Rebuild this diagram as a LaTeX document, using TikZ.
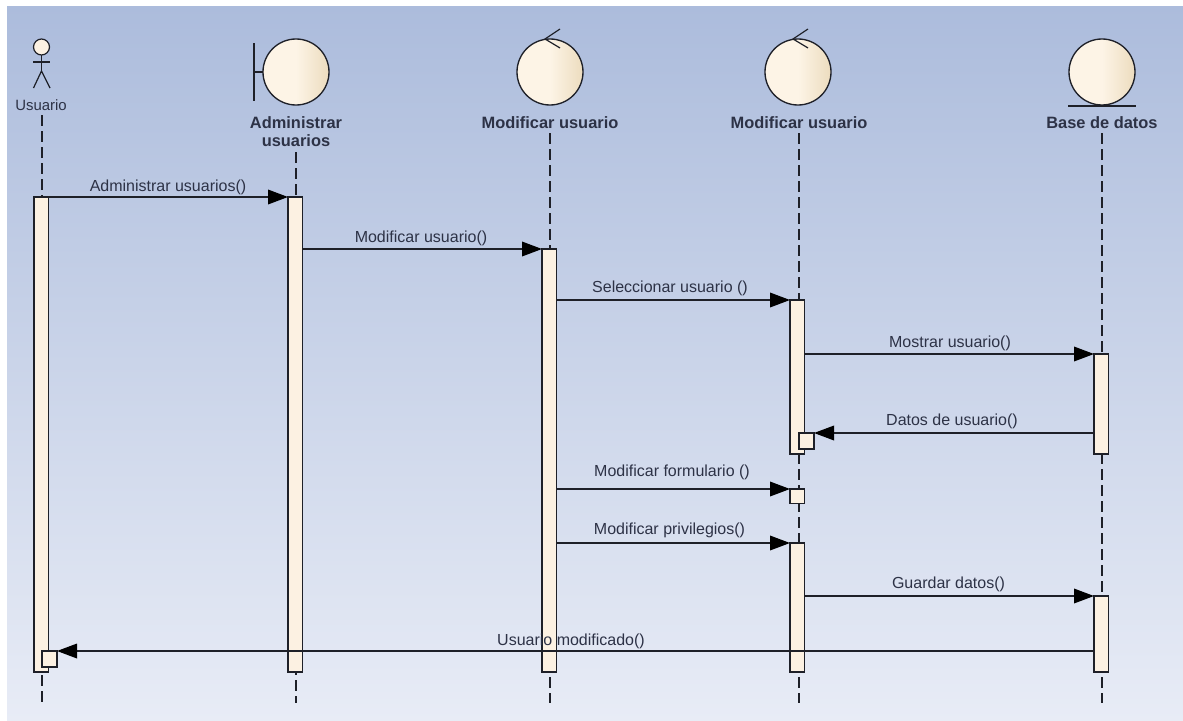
\documentclass[tikz,border=0pt]{standalone}
\usepackage{fontspec}
\setmainfont{Liberation Sans}
\usetikzlibrary{arrows.meta}
\definecolor{txt}{RGB}{45,50,70}
\definecolor{ink}{RGB}{30,32,40}
\definecolor{barfill}{RGB}{252,241,226}
\definecolor{bgtop}{RGB}{172,188,220}
\definecolor{bgbot}{RGB}{232,236,246}
\definecolor{cl}{RGB}{253,244,230}
\definecolor{cr}{RGB}{236,220,190}
\tikzset{
 x=0.75pt,y=-0.75pt,
 lifeline/.style={draw=ink,line width=0.9pt,dash pattern=on 8.25pt off 3.75pt},
 bar/.style={draw=ink,line width=0.95pt,fill=barfill,rectangle,inner sep=0,outer sep=0,anchor=north west,minimum width=10.9pt},
 small/.style={bar,minimum width=11.25pt,minimum height=12pt},
 msg/.style={draw=ink,line width=0.95pt,-{Triangle[length=15pt,width=11pt,color=black]}},
 lbl/.style={text=txt,font=\fontsize{12}{13}\selectfont,inner sep=0,anchor=center},
 head/.style={text=txt,font=\bfseries\fontsize{12.3}{13.5}\selectfont,inner sep=0,anchor=center,align=center},
 robust/.style={draw=ink,line width=1pt,left color=cl,right color=cr,middle color=cl,circle,minimum size=49.5pt,inner sep=0,outer sep=0},
 stroke/.style={draw=ink,line width=0.9pt},
}
\begin{document}
\begin{tikzpicture}
\useasboundingbox (0,0) rectangle (1183,721);
\fill[white] (0,0) rectangle (1183,721);
\shade[top color=bgtop,bottom color=bgbot] (7,6) rectangle (1183,721);
% head labels
\node[lbl,font=\fontsize{11.2}{13}\selectfont] (uU) at (41,105) {Usuario};
\node[head] (hA) at (296,132) {Administrar\\usuarios};
\node[head] (hB) at (550,123) {Modificar usuario};
\node[head] (hC) at (799,123) {Modificar usuario};
\node[head] (hD) at (1102,123) {Base de datos};
% lifeline ends
\coordinate (s0) at (42,115); \coordinate (e0) at (42,703);
\coordinate (s1) at (296,152); \coordinate (e1) at (296,703);
\coordinate (s2) at (550,133); \coordinate (e2) at (550,703);
\coordinate (s3) at (799,133); \coordinate (e3) at (799,703);
\coordinate (s4) at (1102,133); \coordinate (e4) at (1102,703);
\foreach \i in {0,...,4}{\draw[lifeline] (s\i) -- (e\i);}
% actor
\node[circle,draw=ink,line width=0.9pt,fill=barfill,minimum size=12pt,inner sep=0,outer sep=0] (actor) at (41.5,47) {};
\coordinate (hip) at (41.5,71); \coordinate (armL) at (33,62); \coordinate (armR) at (50,62);
\coordinate (legL) at (33.5,88); \coordinate (legR) at (50,88);
\draw[stroke] (actor.south) -- (hip);
\draw[stroke] (armL) -- (armR);
\draw[stroke] (legL) -- (hip) -- (legR);
% boundary
\node[robust] (c1) at (296,72) {};
\coordinate (b1t) at (254,43); \coordinate (b1b) at (254,101); \coordinate (b1m) at (254,72);
\draw[stroke] (b1t) -- (b1b);
\draw[stroke] (b1m) -- (c1.west);
% controls
\node[robust] (c2) at (550,72) {};
\node[robust] (c3) at (798,72) {};
\foreach \n in {c2,c3}{
 \draw[stroke] ([shift={(10,-10)}]\n.north) -- ([shift={(-5,0)}]\n.north) -- ([shift={(10,9)}]\n.north);
}
% entity
\node[robust] (c4) at (1102,72) {};
\coordinate (l4a) at (1068,106); \coordinate (l4b) at (1136,106);
\draw[stroke] (l4a) -- (l4b);
% activation bars
\node[bar,minimum height=356.25pt] (a0) at (34,197) {};
\node[bar,minimum height=356.25pt] (a1) at (288,197) {};
\node[bar,minimum height=317.25pt] (a2) at (542,249) {};
\node[bar,minimum height=115.5pt] (a3) at (790,300) {};
\node[small] (a3s) at (799,433) {};
\node[small,minimum width=10.9pt,minimum height=10.9pt] (a3f) at (790,489) {};
\node[bar,minimum height=96.75pt] (a3b) at (790,543) {};
\node[bar,minimum height=75pt] (a4) at (1094,354) {};
\node[bar,minimum height=57pt] (a4b) at (1094,596) {};
\node[small] (a0s) at (42,651) {};
% messages
\draw[msg] (a0.north east) -- (a1.north west);
\draw[msg] (a1.east |- a2.north) -- (a2.north west);
\draw[msg] (a2.east |- a3.north) -- (a3.north west);
\draw[msg] (a3.east |- a4.north) -- (a4.north west);
\draw[msg] (a4.west |- a3s.north) -- (a3s.north east);
\draw[msg] (a2.east |- a3f.north) -- (a3f.north west);
\draw[msg] (a2.east |- a3b.north) -- (a3b.north west);
\draw[msg] (a3b.east |- a4b.north) -- (a4b.north west);
\draw[msg] (a4b.west |- a0s.north) -- (a0s.north east);
% message labels
\node[lbl] (m1) at (168,187) {Administrar usuarios()};
\node[lbl] (m2) at (421,238) {Modificar usuario()};
\node[lbl] (m3) at (670,288) {Seleccionar usuario ()};
\node[lbl] (m4) at (950,343) {Mostrar usuario()};
\node[lbl] (m5) at (952,421) {Datos de usuario()};
\node[lbl] (m6) at (672,472) {Modificar formulario ()};
\node[lbl] (m7) at (669.5,530) {Modificar privilegios()};
\node[lbl] (m8) at (948.5,584) {Guardar datos()};
\node[lbl] (m9) at (571,641) {Usuario modificado()};
\end{tikzpicture}
\end{document}
